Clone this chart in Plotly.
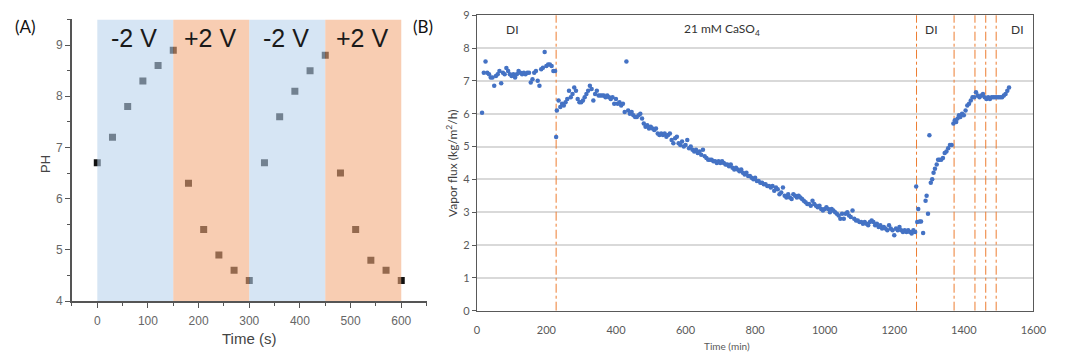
import plotly.graph_objects as go

W, H = 1073, 360

# ---------------- Panel A data ----------------
ph_time = [0, 30, 60, 90, 120, 150, 180, 210, 240, 270, 300,
           330, 360, 390, 420, 450, 480, 510, 540, 570, 600]
ph_value = [6.7, 7.2, 7.8, 8.3, 8.6, 8.9, 6.3, 5.4, 4.9, 4.6, 4.4,
            6.7, 7.6, 8.1, 8.5, 8.8, 6.5, 5.4, 4.8, 4.6, 4.4]
bias_start = [0, 150, 300, 450]
bias_end = [150, 300, 450, 600]
bias_label = ["-2 V", "+2 V", "-2 V", "+2 V"]

# ---------------- Panel B data ----------------
di1_time = [15, 20, 25, 30, 35, 40, 45, 50, 55, 60,
            65, 70, 75, 80, 85, 90, 95, 100, 105, 110,
            115, 120, 125, 130, 135, 140, 145, 150, 155, 160,
            165, 170, 175, 180, 185, 190, 195, 200, 205, 210,
            215, 220, 225, 228]
di1_flux = [6.03, 7.25, 7.59, 7.25, 7.20, 7.10, 7.10, 6.85, 7.15, 7.20,
            7.30, 6.93, 7.25, 7.20, 7.39, 7.30, 7.20, 7.15, 7.20, 7.10,
            7.20, 7.30, 7.25, 7.20, 7.25, 7.20, 7.25, 7.25, 6.95, 7.05,
            7.25, 7.30, 7.00, 6.85, 7.35, 7.40, 7.88, 7.45, 7.50, 7.50,
            7.45, 7.30, 7.30, 5.29]

ca_time = [230, 235, 240, 245, 250, 255, 260, 265, 270, 275,
           280, 285, 290, 295, 300, 305, 310, 315, 320, 325,
           330, 335, 340, 345, 350, 355, 360, 365, 370, 375,
           380, 385, 390, 395, 400, 405, 410, 415, 420, 425,
           430, 435, 440, 445, 450, 455, 460, 465, 470, 475,
           480, 485, 490, 495, 500, 505, 510, 515, 520, 525,
           530, 535, 540, 545, 550, 555, 560, 565, 570, 575,
           580, 585, 590, 595, 600, 605, 610, 615, 620, 625,
           630, 635, 640, 645, 650, 655, 660, 665, 670, 675,
           680, 685, 690, 695, 700, 705, 710, 715, 720, 725,
           730, 735, 740, 745, 750, 755, 760, 765, 770, 775,
           780, 785, 790, 795, 800, 805, 810, 815, 820, 825,
           830, 835, 840, 845, 850, 855, 860, 865, 870, 875,
           880, 885, 890, 895, 900, 905, 910, 915, 920, 925,
           930, 935, 940, 945, 950, 955, 960, 965, 970, 975,
           980, 985, 990, 995, 1000, 1005, 1010, 1015, 1020, 1025,
           1030, 1035, 1040, 1045, 1050, 1055, 1060, 1065, 1070, 1075,
           1080, 1085, 1090, 1095, 1100, 1105, 1110, 1115, 1120, 1125,
           1130, 1135, 1140, 1145, 1150, 1155, 1160, 1165, 1170, 1175,
           1180, 1185, 1190, 1195, 1200, 1205, 1210, 1215, 1220, 1225,
           1230, 1235, 1240, 1245, 1250, 1255, 1260]
ca_flux = [6.10, 6.40, 6.20, 6.30, 6.25, 6.35, 6.45, 6.70, 6.50, 6.60,
           6.80, 6.70, 6.45, 6.35, 6.35, 6.40, 6.50, 6.60, 6.70, 6.85,
           6.75, 6.40, 6.60, 6.70, 6.55, 6.55, 6.55, 6.55, 6.50, 6.55,
           6.50, 6.45, 6.50, 6.30, 6.45, 6.30, 6.35, 6.25, 6.30, 6.05,
           7.59, 6.10, 6.00, 6.05, 5.95, 5.90, 5.90, 5.95, 6.00, 5.85,
           5.70, 5.60, 5.65, 5.55, 5.60, 5.55, 5.50, 5.55, 5.40, 5.35,
           5.40, 5.35, 5.40, 5.30, 5.35, 5.40, 5.20, 5.10, 5.25, 5.30,
           5.10, 5.05, 5.15, 5.00, 5.05, 5.20, 4.95, 5.00, 4.90, 4.85,
           4.90, 4.80, 4.85, 4.75, 4.90, 4.70, 4.65, 4.60, 4.60, 4.60,
           4.55, 4.55, 4.50, 4.55, 4.50, 4.55, 4.50, 4.45, 4.45, 4.40,
           4.45, 4.35, 4.30, 4.35, 4.30, 4.25, 4.30, 4.20, 4.15, 4.20,
           4.10, 4.10, 4.05, 4.00, 4.05, 3.95, 3.95, 3.90, 3.90, 3.85,
           3.85, 3.80, 3.80, 3.75, 3.80, 3.65, 3.75, 3.70, 3.55, 3.60,
           3.75, 3.50, 3.45, 3.55, 3.45, 3.40, 3.55, 3.50, 3.45, 3.50,
           3.45, 3.40, 3.35, 3.30, 3.25, 3.25, 3.20, 3.35, 3.25, 3.20,
           3.15, 3.20, 3.10, 3.05, 3.10, 3.15, 3.10, 3.00, 3.10, 3.05,
           3.00, 2.95, 2.90, 2.80, 2.95, 2.80, 2.95, 3.00, 2.90, 2.85,
           3.05, 2.80, 2.75, 2.75, 2.70, 2.70, 2.65, 2.70, 2.65, 2.60,
           2.70, 2.75, 2.70, 2.60, 2.65, 2.55, 2.60, 2.50, 2.55, 2.50,
           2.45, 2.60, 2.50, 2.45, 2.30, 2.50, 2.45, 2.55, 2.45, 2.40,
           2.45, 2.40, 2.45, 2.40, 2.35, 2.45, 2.40]

di2_time = [1263, 1266, 1269, 1273, 1277, 1283, 1290, 1293, 1297, 1301,
            1305, 1309, 1313, 1317, 1322, 1326, 1330, 1335, 1340, 1345,
            1350, 1355, 1360, 1365, 1370, 1374, 1378, 1382, 1386, 1390,
            1395, 1400, 1405, 1410, 1415, 1420, 1425, 1430, 1435, 1440,
            1445, 1450, 1455, 1460, 1465, 1470, 1475, 1480, 1485, 1490,
            1495, 1500, 1505, 1510, 1515, 1520, 1525, 1530]
di2_flux = [3.78, 2.70, 3.10, 2.72, 2.72, 2.37, 3.35, 3.50, 2.95, 5.34,
            3.90, 4.00, 4.20, 4.32, 4.45, 4.60, 4.60, 4.60, 4.65, 4.80,
            4.85, 4.95, 5.05, 5.05, 5.70, 5.80, 5.75, 5.85, 5.95, 5.90,
            6.00, 5.95, 6.10, 6.25, 6.30, 6.40, 6.50, 6.50, 6.65, 6.55,
            6.50, 6.55, 6.60, 6.50, 6.45, 6.50, 6.45, 6.50, 6.50, 6.50,
            6.50, 6.50, 6.50, 6.50, 6.55, 6.60, 6.70, 6.80]

switch_time = [228, 1264, 1372, 1432, 1463, 1493]
region_label = ["DI", "21 mM CaSO<sub>4</sub>", "DI", "DI"]
region_x = [102, 705, 1306, 1555]

# ---------------- Figure ----------------
fig = go.Figure()

# Panel A points
fig.add_trace(go.Scatter(
    x=ph_time, y=ph_value, mode="markers", xaxis="x", yaxis="y",
    marker=dict(symbol="square", size=7, color="#111111", line=dict(width=0)),
    showlegend=False, hoverinfo="skip"))

# Panel B switch lines
for t in switch_time:
    fig.add_trace(go.Scatter(
        x=[t, t], y=[0, 9.08], mode="lines", xaxis="x2", yaxis="y2",
        line=dict(color="#ED7D31", width=1, dash="dashdot"),
        showlegend=False, hoverinfo="skip"))
fig.add_trace(go.Scatter(
    x=switch_time, y=[9.08] * len(switch_time), mode="markers",
    xaxis="x2", yaxis="y2", cliponaxis=False,
    marker=dict(size=4, color="#ED7D31"), showlegend=False, hoverinfo="skip"))

# Panel B data
flux_time = di1_time + ca_time + di2_time
flux_value = di1_flux + ca_flux + di2_flux
fig.add_trace(go.Scatter(
    x=flux_time, y=flux_value, mode="markers", xaxis="x2", yaxis="y2",
    marker=dict(size=4.5, color="#4472C4", line=dict(width=0)),
    showlegend=False, hoverinfo="skip"))

shapes = []
fills = ["rgba(184,210,236,0.58)", "rgba(243,169,123,0.58)"]
for i, (a, b) in enumerate(zip(bias_start, bias_end)):
    shapes.append(dict(type="rect", xref="x", yref="y", x0=a, x1=b, y0=4, y1=9.5,
                       fillcolor=fills[i % 2], line=dict(width=0), layer="above"))

annotations = []
for a, b, lab in zip(bias_start, bias_end, bias_label):
    annotations.append(dict(x=(a + b) / 2 - 3, y=9.13, xref="x", yref="y", text=lab,
                            xanchor="center", yanchor="middle",
                            showarrow=False, font=dict(family="Liberation Sans, Arial", size=25, color="#1a1a1a")))
for xv, lab in zip(region_x, region_label):
    annotations.append(dict(x=xv, y=8.55, xref="x2", yref="y2", text=lab, showarrow=False,
                            xanchor="center", yanchor="middle",
                            font=dict(family="Lato, Open Sans", size=12, color="#333333")))


def ptext(px, py, text, size, color, family, angle=0):
    return dict(x=px / W, y=1 - py / H, xref="paper", yref="paper", text=text, textangle=angle,
                xanchor="center", yanchor="middle", showarrow=False,
                font=dict(family=family, size=size, color=color))


annotations += [
    ptext(250, 345, "Time (s)", 15, "#444444", "Liberation Sans, Arial"),
    ptext(43, 163, "PH", 13, "#444444", "Liberation Sans, Arial", -90),
    ptext(735, 353, "Time (min)", 10, "#595959", "Lato, Open Sans"),
    ptext(455, 163, "Vapor flux (kg/m<sup>2</sup>/h)", 12, "#404040", "Lato, Open Sans", -90),
    ptext(23, 20, "(A)", 17, "#111111", "Lato, Liberation Sans"),
    ptext(426, 20, "(B)", 17, "#111111", "Lato, Liberation Sans"),
]

fig.update_layout(
    width=W, height=H, margin=dict(l=0, r=0, t=0, b=0),
    paper_bgcolor="white", plot_bgcolor="rgba(0,0,0,0)",
    shapes=shapes, annotations=annotations,
    xaxis=dict(domain=[70 / W, 430 / W], range=[-50, 650], anchor="y",
               tickmode="array", tickvals=[0, 100, 200, 300, 400, 500, 600],
               ticks="outside", ticklen=5, tickcolor="#555555", showline=True, linecolor="#555555",
               linewidth=1.5, showgrid=False, zeroline=False, ticklabelstandoff=3,
               tickfont=dict(family="Liberation Sans, Arial", size=12, color="#666666"),
               minor=dict(tickmode="array", tickvals=[-50, 50, 150, 250, 350, 450, 550, 650],
                          ticks="outside", ticklen=3, tickcolor="#555555", showgrid=False)),
    yaxis=dict(domain=[1 - 306 / H, 1 - 13 / H], range=[4, 9.5], anchor="x",
               tickmode="array", tickvals=[4, 5, 6, 7, 8, 9],
               ticks="outside", ticklen=5, tickcolor="#555555", showline=True, linecolor="#555555",
               linewidth=1.5, showgrid=False, zeroline=False,
               tickfont=dict(family="Liberation Sans, Arial", size=12, color="#666666"),
               minor=dict(tickmode="array", tickvals=[4.5, 5.5, 6.5, 7.5, 8.5, 9.5],
                          ticks="outside", ticklen=3, tickcolor="#555555", showgrid=False)),
    xaxis2=dict(domain=[481 / W, 1046 / W], range=[0, 1600], anchor="y2",
                dtick=200, ticks="", showline=True, mirror=True, linecolor="#595959", linewidth=1.2,
                showgrid=False, zeroline=False, ticklabelstandoff=9,
                tickfont=dict(family="Lato, Open Sans", size=11, color="#595959")),
    yaxis2=dict(domain=[1 - 316 / H, 1 - 8.5 / H], range=[0, 9], anchor="x2",
                dtick=1, ticks="outside", ticklen=4, tickcolor="#595959",
                showline=True, mirror=True, linecolor="#595959", linewidth=1.2,
                showgrid=True, gridcolor="#d9d9d9", gridwidth=1.5, zeroline=False,
                tickfont=dict(family="Lato, Open Sans", size=11, color="#595959")),
)

css_js = ("var s='margin:0;padding:0;overflow:hidden;width:1073px;height:360px;';"
          "document.documentElement.style.cssText=s;document.body.style.cssText=s;")
fig.write_html("out.html", config={"displayModeBar": False}, post_script=css_js)
